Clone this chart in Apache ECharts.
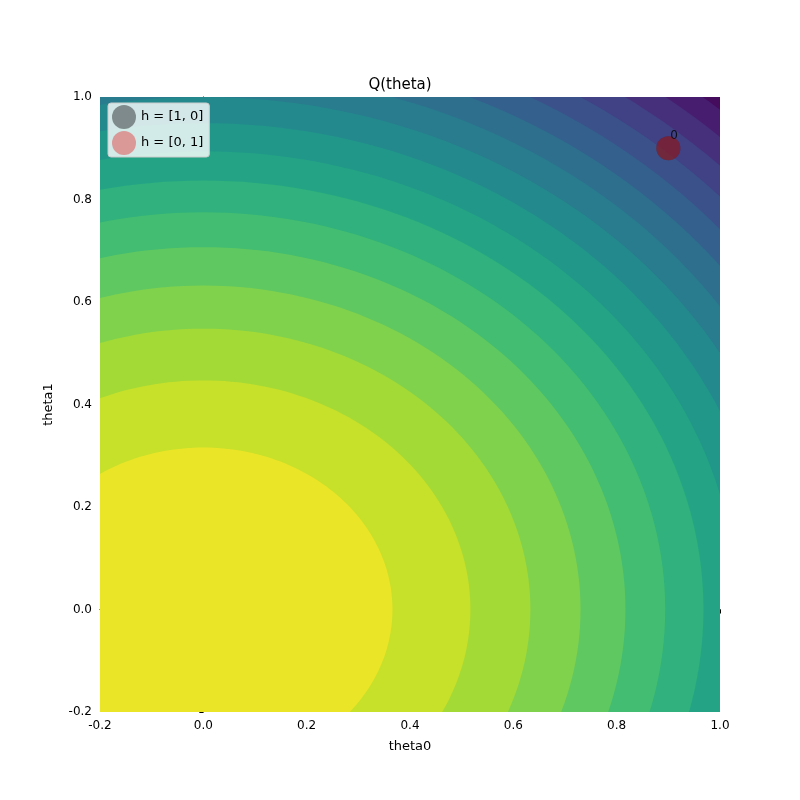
<!DOCTYPE html>
<html><head><meta charset="utf-8">
<script src="https://cdn.jsdelivr.net/npm/echarts@6/dist/echarts.min.js"></script>
<style>html,body{margin:0;background:#fff}#c{width:800px;height:800px}</style>
</head><body><div id="c"></div>
<script>
// contour boundaries (ellipses centred at origin), half-axes
const radiusTheta0 = [0.366,0.517,0.633,0.730,0.817,0.894,0.968,1.033,1.095,1.155,1.211,1.265,1.317,1.366,1.414,1.461,1.506];
const radiusTheta1 = [0.316,0.447,0.548,0.632,0.707,0.775,0.837,0.894,0.949,1.000,1.049,1.095,1.140,1.183,1.225,1.265,1.304];
const pointsH10 = [[0.9,0.9]];
const pointsH01 = [[0.9,0.9]];
const pointLabels = ['0'];
const xTicks = [-0.2,0.0,0.2,0.4,0.6,0.8,1.0];

const vir = ['#440154','#482878','#3e4989','#31688e','#26828e','#1f9e89','#35b779','#6ece58','#b5de2b','#fde725'];
function viridis(t){
  t=Math.max(0,Math.min(1,t));const p=t*(vir.length-1);const i=Math.min(vir.length-2,Math.floor(p));const f=p-i;
  const a=parseInt(vir[i].slice(1),16),b=parseInt(vir[i+1].slice(1),16);
  const ch=s=>Math.round(((a>>s)&255)*(1-f)+((b>>s)&255)*f);
  return `rgb(${ch(16)},${ch(8)},${ch(0)})`;
}
const nBands = radiusTheta0.length+1;
const bandColor = i => viridis(1-(i+0.5)/nBands);
// ellipses drawn outermost first; index k fills band k (inside boundary k)
const ellData = [];
for(let k=radiusTheta0.length-1;k>=0;k--) ellData.push([radiusTheta0[k],radiusTheta1[k],k]);

const chart = echarts.init(document.getElementById('c'));
chart.setOption({
  animation:false,
  title:{text:'Q(theta)',left:'center',top:73,textStyle:{fontSize:15,fontWeight:'normal',color:'#000',fontFamily:'DejaVu Sans'}},
  legend:{left:108,top:103,orient:'vertical',itemWidth:24,itemHeight:24,itemGap:2,backgroundColor:'rgba(255,255,255,0.8)',borderColor:'#ccc',borderWidth:1,borderRadius:3,padding:[2,6,2,4],
    textStyle:{fontSize:13,fontFamily:'DejaVu Sans',color:'#000'},data:['h = [1, 0]','h = [0, 1]']},
  grid:{left:100,right:80,top:97,bottom:88},
  xAxis:{type:'value',min:-0.2,max:1.0,interval:0.2,name:'theta0',nameLocation:'middle',nameGap:28,
    nameTextStyle:{fontSize:13,color:'#000',fontFamily:'DejaVu Sans'},
    axisLine:{lineStyle:{color:'#000'}},axisTick:{show:true,inside:false,length:4,lineStyle:{color:'#000'}},
    axisLabel:{color:'#000',fontSize:12,fontFamily:'DejaVu Sans',formatter:v=>v.toFixed(1)},splitLine:{show:false}},
  yAxis:{type:'value',min:-0.2,max:1.0,interval:0.2,name:'theta1',nameLocation:'middle',nameGap:45,
    nameTextStyle:{fontSize:13,color:'#000',fontFamily:'DejaVu Sans'},
    axisLine:{show:true,lineStyle:{color:'#000'}},axisTick:{show:true,length:4,lineStyle:{color:'#000'}},
    axisLabel:{color:'#000',fontSize:12,fontFamily:'DejaVu Sans',formatter:v=>v.toFixed(1)},splitLine:{show:false}},
  series:[
    {type:'custom',clip:true,silent:true,z:1,data:[[-0.2,1.0]],
      renderItem:(params,api)=>{const a=api.coord([-0.2,1.0]),b=api.coord([1.0,-0.2]);
        return {type:'rect',shape:{x:a[0],y:a[1],width:b[0]-a[0],height:b[1]-a[1]},style:{fill:bandColor(nBands-1)}};}},
    {type:'custom',clip:true,silent:true,z:2,data:ellData,
      renderItem:(params,api)=>{const rx=api.value(0),ry=api.value(1),k=api.value(2);const pts=[];
        for(let i=0;i<=240;i++){const t=i/240*2*Math.PI;pts.push(api.coord([rx*Math.cos(t),ry*Math.sin(t)]));}
        return {type:'polygon',shape:{points:pts},style:{fill:bandColor(k)}};}},
    {name:'h = [1, 0]',type:'scatter',z:5,symbolSize:24,data:pointsH10,itemStyle:{color:'rgba(0,0,0,0.5)'}},
    {name:'h = [0, 1]',type:'scatter',z:6,symbolSize:24,data:pointsH01,itemStyle:{color:'rgba(230,30,30,0.5)'},
      label:{show:true,position:[14,-6],color:'#000',fontSize:12,fontFamily:'DejaVu Sans',formatter:p=>pointLabels[p.dataIndex]}}
  ]
});
</script></body></html>
